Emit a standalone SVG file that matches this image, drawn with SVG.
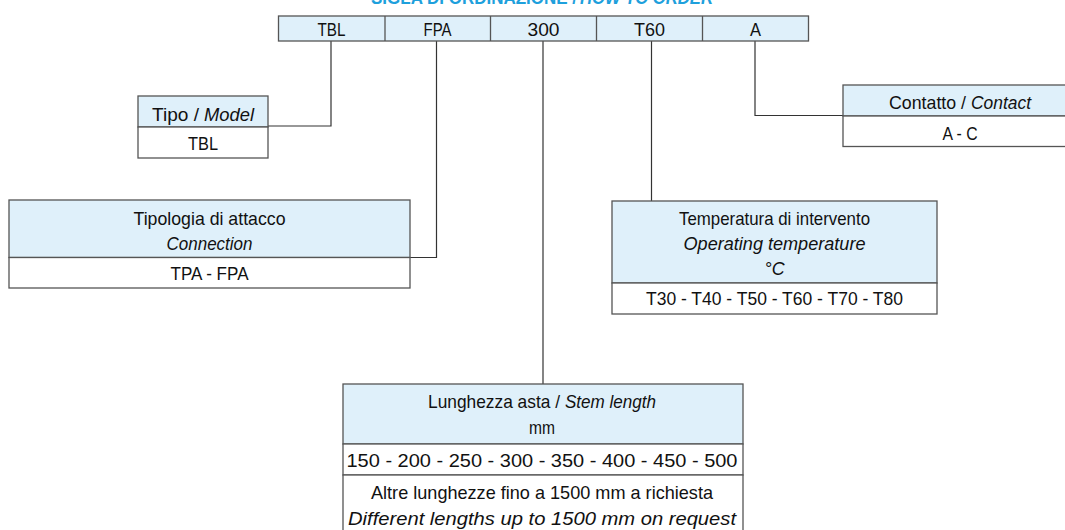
<svg xmlns="http://www.w3.org/2000/svg" width="1065" height="530" viewBox="0 0 1065 530">
<style>
text{font-family:"Liberation Sans",Arial,sans-serif;font-size:19px;fill:#111;text-anchor:middle}
.s{text-anchor:start}
.i{font-style:italic}
.hd{fill:#dff0fa;stroke:#555;stroke-width:1.3}
.rw{fill:#fff;stroke:#555;stroke-width:1.3}
.cn{fill:none;stroke:#333;stroke-width:1.2}
.title{font-weight:bold;fill:#1ea0dc;font-size:18px;text-anchor:start}
</style>
<rect width="1065" height="530" fill="#fff"/>
<g id="title">
<text class="title" x="371" y="4" textLength="206" lengthAdjust="spacingAndGlyphs">SIGLA DI ORDINAZIONE /</text>
<text class="title i" x="580" y="4" textLength="133" lengthAdjust="spacingAndGlyphs">HOW TO ORDER</text>
</g>

<g id="connectors">
<polyline class="cn" points="331,41 331,126 268,126"/>
<polyline class="cn" points="436.5,41 436.5,257.5 410,257.5"/>
<polyline class="cn" points="543,41 543,384"/>
<polyline class="cn" points="651.5,41 651.5,201"/>
<polyline class="cn" points="755,41 755,115.5 843,115.5"/>
</g>

<g id="code">
<rect class="hd" x="278.5" y="16" width="530" height="25"/>
<line class="hd" x1="385" y1="16" x2="385" y2="41"/>
<line class="hd" x1="490.5" y1="16" x2="490.5" y2="41"/>
<line class="hd" x1="596.5" y1="16" x2="596.5" y2="41"/>
<line class="hd" x1="702.5" y1="16" x2="702.5" y2="41"/>
<text x="331.5" y="35.5" textLength="28" lengthAdjust="spacingAndGlyphs">TBL</text>
<text x="437.5" y="35.5" textLength="28" lengthAdjust="spacingAndGlyphs">FPA</text>
<text x="543.5" y="35.5" textLength="32" lengthAdjust="spacingAndGlyphs">300</text>
<text x="649.5" y="35.5" textLength="31" lengthAdjust="spacingAndGlyphs">T60</text>
<text x="755.5" y="35.5" textLength="11" lengthAdjust="spacingAndGlyphs">A</text>
</g>

<g id="model">
<rect class="hd" x="138" y="96" width="130" height="31"/>
<rect class="rw" x="138" y="127" width="130" height="31"/>
<text class="s" x="152" y="120.5" textLength="47" lengthAdjust="spacingAndGlyphs">Tipo /</text>
<text class="s i" x="204" y="120.5" textLength="50" lengthAdjust="spacingAndGlyphs">Model</text>
<text x="203" y="149.5" textLength="30" lengthAdjust="spacingAndGlyphs">TBL</text>
</g>

<g id="connection">
<rect class="hd" x="9" y="200" width="401" height="57.5"/>
<rect class="rw" x="9" y="257.5" width="401" height="30.5"/>
<text x="209.5" y="225" textLength="152" lengthAdjust="spacingAndGlyphs">Tipologia di attacco</text>
<text class="i" x="209.5" y="250" textLength="86" lengthAdjust="spacingAndGlyphs">Connection</text>
<text x="209.5" y="280" textLength="78" lengthAdjust="spacingAndGlyphs">TPA - FPA</text>
</g>

<g id="temperature">
<rect class="hd" x="612" y="201" width="325" height="82"/>
<rect class="rw" x="612" y="283" width="325" height="31"/>
<text x="774.5" y="225" textLength="191" lengthAdjust="spacingAndGlyphs">Temperatura di intervento</text>
<text class="i" x="774.5" y="250" textLength="182" lengthAdjust="spacingAndGlyphs">Operating temperature</text>
<text class="i" x="774.5" y="275" textLength="20" lengthAdjust="spacingAndGlyphs">°C</text>
<text x="774.5" y="304.5" textLength="257" lengthAdjust="spacingAndGlyphs">T30 - T40 - T50 - T60 - T70 - T80</text>
</g>

<g id="contact">
<rect class="hd" x="843" y="85" width="234" height="31"/>
<rect class="rw" x="843" y="116" width="234" height="30.5"/>
<text class="s" x="889" y="108.5" textLength="77" lengthAdjust="spacingAndGlyphs">Contatto /</text>
<text class="s i" x="971" y="108.5" textLength="60" lengthAdjust="spacingAndGlyphs">Contact</text>
<text x="960" y="139.5" textLength="35" lengthAdjust="spacingAndGlyphs">A - C</text>
</g>

<g id="length">
<rect class="hd" x="343" y="384" width="400" height="60"/>
<rect class="rw" x="343" y="444" width="400" height="31"/>
<rect class="rw" x="343" y="475" width="400" height="70"/>
<text class="s" x="428" y="408" textLength="132" lengthAdjust="spacingAndGlyphs">Lunghezza asta /</text>
<text class="s i" x="565" y="408" textLength="91" lengthAdjust="spacingAndGlyphs">Stem length</text>
<text x="542" y="434" textLength="26" lengthAdjust="spacingAndGlyphs">mm</text>
<text x="542" y="466.5" textLength="391" lengthAdjust="spacingAndGlyphs">150 - 200 - 250 - 300 - 350 - 400 - 450 - 500</text>
<text x="542" y="499" textLength="342" lengthAdjust="spacingAndGlyphs">Altre lunghezze fino a 1500 mm a richiesta</text>
<text class="i" x="542" y="525" textLength="388" lengthAdjust="spacingAndGlyphs">Different lengths up to 1500 mm on request</text>
</g>
</svg>
